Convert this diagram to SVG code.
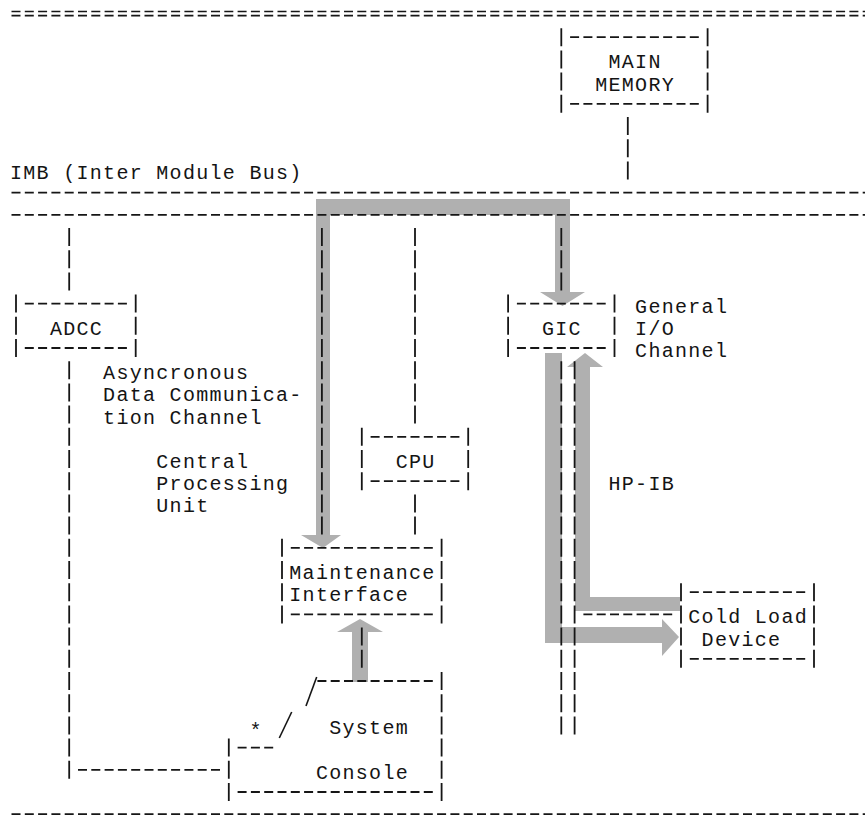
<svg xmlns="http://www.w3.org/2000/svg" width="865" height="819" viewBox="0 0 865 819">
<style>
.h{stroke:#161616;stroke-width:1.8;stroke-dasharray:9 4.3;fill:none}
.v{stroke:#161616;stroke-width:1.8;stroke-dasharray:18 4.2;fill:none}
.s{stroke:#161616;stroke-width:1.6;fill:none}
.t{font-family:"Liberation Mono",monospace;font-size:20px;letter-spacing:1.3px;fill:#141414}
.g{fill:#b0b0b0}
</style>
<rect width="865" height="819" fill="#ffffff"/>

<g id="connectors">
  <path class="g" d="M316,199 H570 V292 H585 L562.5,306 L540,292 H555 V215 H330 V535 H341 L323,548 L301,535 H316 Z"/>
  <path class="g" d="M545,353 H562 V627 H662 V619 L679,637 L662,656 V643 H545 Z"/>
  <path class="g" d="M575,611 V367 H567 L585,353 L603,367 H590 V597 H680 V611 Z"/>
  <path class="g" d="M352,682 V632 H337 L360,619 L383,632 H368 V682 Z"/>
  <line class="v" x1="627.8" y1="117" x2="627.8" y2="179.4"/>
  <line class="v" x1="69.2" y1="228" x2="69.2" y2="290.4"/>
  <line class="v" x1="69.2" y1="361.2" x2="69.2" y2="778.8"/>
  <line class="h" x1="78" y1="769.8" x2="220" y2="769.8"/>
  <line class="v" x1="321.9" y1="228" x2="321.9" y2="534.6"/>
  <line class="v" x1="415" y1="228" x2="415" y2="423.6"/>
  <line class="v" x1="415" y1="494.4" x2="415" y2="534.6"/>
  <line class="v" x1="561.3" y1="228" x2="561.3" y2="290.4"/>
  <line class="v" x1="561.3" y1="361.2" x2="561.3" y2="734.4"/>
  <line class="v" x1="574.6" y1="361.2" x2="574.6" y2="734.4"/>
  <line class="h" x1="583.4" y1="614.4" x2="672.2" y2="614.4"/>
  <line class="v" x1="361.8" y1="627.6" x2="361.8" y2="667.8"/>
  <text class="t" x="608.5" y="490.2">HP-IB</text>
</g>

<g id="frame">
  <line class="h" x1="11.5" y1="11.5" x2="871" y2="11.5" style="stroke-width:1.6"/>
  <line class="h" x1="11.5" y1="15.6" x2="871" y2="15.6" style="stroke-width:1.6"/>
  <line class="h" x1="11.5" y1="814.2" x2="871" y2="814.2"/>
</g>

<g id="imb">
  <text class="t" x="10" y="179.4">IMB (Inter Module Bus)</text>
  <line class="h" x1="11.5" y1="192.6" x2="871" y2="192.6"/>
  <line class="h" x1="11.5" y1="214.8" x2="871" y2="214.8"/>
</g>

<g id="main-memory">
  <line class="v" x1="561.3" y1="28.2" x2="561.3" y2="112.8"/>
  <line class="v" x1="707.6" y1="28.2" x2="707.6" y2="112.8"/>
  <line class="h" x1="570.1" y1="37.2" x2="698.8" y2="37.2"/>
  <line class="h" x1="570.1" y1="103.8" x2="698.8" y2="103.8"/>
  <text class="t" x="608.5" y="68.4">MAIN</text>
  <text class="t" x="595.2" y="90.6">MEMORY</text>
</g>

<g id="adcc">
  <line class="v" x1="16" y1="294.6" x2="16" y2="357"/>
  <line class="v" x1="135.7" y1="294.6" x2="135.7" y2="357"/>
  <line class="h" x1="24.8" y1="303.6" x2="126.9" y2="303.6"/>
  <line class="h" x1="24.8" y1="348" x2="126.9" y2="348"/>
  <text class="t" x="49.9" y="334.8">ADCC</text>
  <text class="t" x="103.1" y="379.2">Asyncronous</text>
  <text class="t" x="103.1" y="401.4">Data Communica-</text>
  <text class="t" x="103.1" y="423.6">tion Channel</text>
</g>

<g id="cpu">
  <line class="v" x1="361.8" y1="427.8" x2="361.8" y2="490.2"/>
  <line class="v" x1="468.2" y1="427.8" x2="468.2" y2="490.2"/>
  <line class="h" x1="370.6" y1="436.8" x2="459.4" y2="436.8"/>
  <line class="h" x1="370.6" y1="481.2" x2="459.4" y2="481.2"/>
  <text class="t" x="395.7" y="468">CPU</text>
  <text class="t" x="156.3" y="468">Central</text>
  <text class="t" x="156.3" y="490.2">Processing</text>
  <text class="t" x="156.3" y="512.4">Unit</text>
</g>

<g id="gic">
  <line class="v" x1="508.1" y1="294.6" x2="508.1" y2="357"/>
  <line class="v" x1="614.5" y1="294.6" x2="614.5" y2="357"/>
  <line class="h" x1="516.9" y1="303.6" x2="605.7" y2="303.6"/>
  <line class="h" x1="516.9" y1="348" x2="605.7" y2="348"/>
  <text class="t" x="542" y="334.8">GIC</text>
  <text class="t" x="635.1" y="312.6">General</text>
  <text class="t" x="635.1" y="334.8">I/O</text>
  <text class="t" x="635.1" y="357">Channel</text>
</g>

<g id="maintenance-interface">
  <line class="v" x1="282" y1="538.8" x2="282" y2="623.4"/>
  <line class="v" x1="441.6" y1="538.8" x2="441.6" y2="623.4"/>
  <line class="h" x1="290.8" y1="547.8" x2="432.8" y2="547.8"/>
  <line class="h" x1="290.8" y1="614.4" x2="432.8" y2="614.4"/>
  <text class="t" x="289.3" y="579">Maintenance</text>
  <text class="t" x="289.3" y="601.2">Interface</text>
</g>

<g id="cold-load-device">
  <line class="v" x1="681" y1="583.2" x2="681" y2="667.8"/>
  <line class="v" x1="814" y1="583.2" x2="814" y2="667.8"/>
  <line class="h" x1="689.8" y1="592.2" x2="805.2" y2="592.2"/>
  <line class="h" x1="689.8" y1="658.8" x2="805.2" y2="658.8"/>
  <text class="t" x="688.3" y="623.4">Cold Load</text>
  <text class="t" x="701.6" y="645.6">Device</text>
</g>

<g id="system-console">
  <line class="v" x1="441.6" y1="672" x2="441.6" y2="801"/>
  <line class="v" x1="228.8" y1="738.6" x2="228.8" y2="801"/>
  <line class="h" x1="317.4" y1="681" x2="432.8" y2="681"/>
  <line class="h" x1="237.6" y1="747.6" x2="273.2" y2="747.6"/>
  <line class="h" x1="237.6" y1="792" x2="432.8" y2="792"/>
  <line class="s" x1="316.7" y1="677" x2="306" y2="706"/>
  <line class="s" x1="291.7" y1="712" x2="279.3" y2="738"/>
  <text class="t" x="249.4" y="737">*</text>
  <text class="t" x="329.2" y="734.4">System</text>
  <text class="t" x="315.9" y="778.8">Console</text>
</g>
</svg>
